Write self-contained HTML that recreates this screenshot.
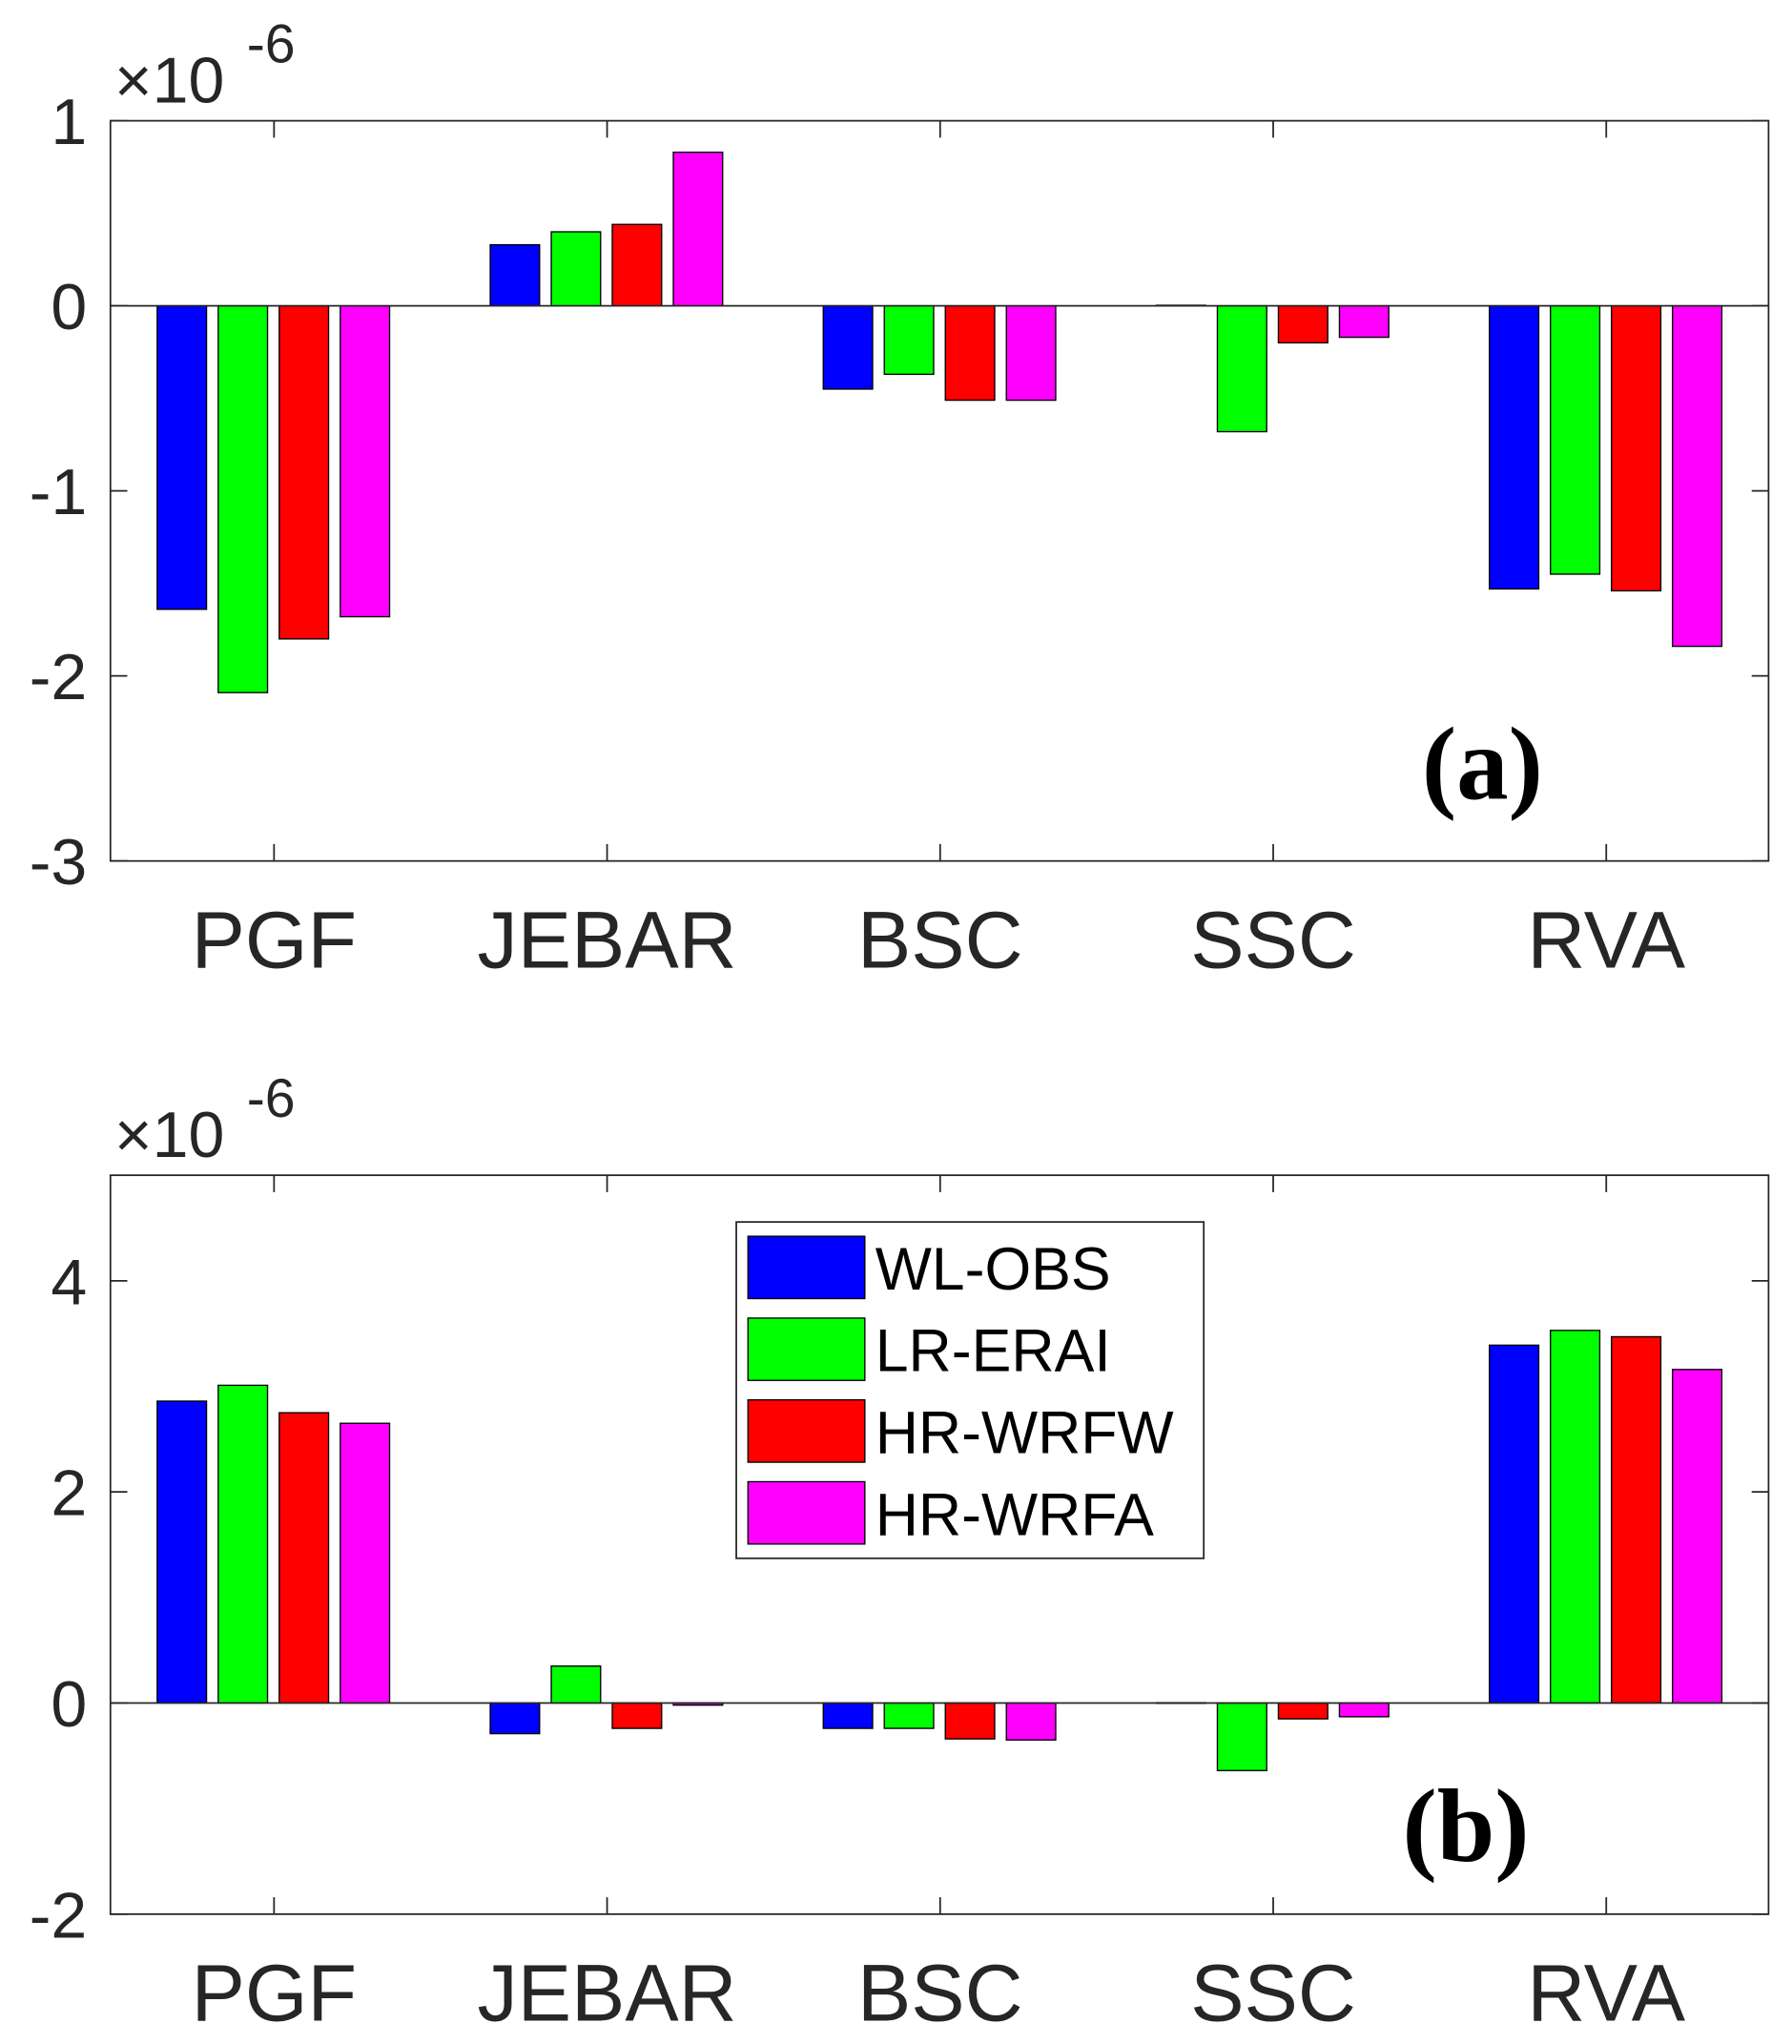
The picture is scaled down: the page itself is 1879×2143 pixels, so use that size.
<!DOCTYPE html>
<html><head><meta charset="utf-8"><style>html,body{margin:0;padding:0;background:#fff}svg{display:block}text{font-family:"Liberation Sans",sans-serif;fill:#262626}</style></head>
<body>
<svg id="chart" width="1879" height="2143" viewBox="0 0 1380 1574" xmlns="http://www.w3.org/2000/svg"></svg>
<script>
const categories = ["PGF","JEBAR","BSC","SSC","RVA"];
const seriesNames = ["WL-OBS","LR-ERAI","HR-WRFW","HR-WRFA"];
const seriesColors = ["#0000ff","#00ff00","#ff0000","#ff00ff"];
const valuesA_WLOBS = [-1.64, 0.33, -0.45, 0.003, -1.53];
const valuesA_LRERAI = [-2.09, 0.40, -0.37, -0.68, -1.45];
const valuesA_HRWRFW = [-1.80, 0.44, -0.51, -0.20, -1.54];
const valuesA_HRWRFA = [-1.68, 0.83, -0.51, -0.17, -1.84];
const valuesB_WLOBS = [2.86, -0.29, -0.24, 0.003, 3.39];
const valuesB_LRERAI = [3.01, 0.35, -0.24, -0.64, 3.53];
const valuesB_HRWRFW = [2.75, -0.24, -0.34, -0.15, 3.47];
const valuesB_HRWRFA = [2.65, -0.02, -0.35, -0.13, 3.16];
const ticksA = [-3,-2,-1,0,1];
const ticksB = [-2,0,2,4];

const NS="http://www.w3.org/2000/svg";
const svg=document.getElementById('chart');
function mk(tag,attrs,parent){const e=document.createElementNS(NS,tag);for(const k in attrs)e.setAttribute(k,attrs[k]);(parent||svg).appendChild(e);return e;}

function panel(cfg){
  const g=mk('g',{});
  
  
  const x0=85,x1=1362,y0=cfg.top,y1=cfg.bottom;
  const yScale=v=>y1-(v-cfg.min)/(cfg.max-cfg.min)*(y1-y0);
  const xScale=i=>211+i*256.5;
  const off=[-71,-24,23,70];
  mk('rect',{x:x0,y:y0,width:x1-x0,height:y1-y0,fill:'#fff',stroke:'#262626','stroke-width':1.3},g);
  cfg.series.forEach((vals,s)=>{
    vals.forEach((v,i)=>{
      const cx=xScale(i)+off[s];
      const ya=yScale(Math.max(v,0)),yb=yScale(Math.min(v,0));
      const r=mk('rect',{x:cx-19,y:ya,width:38,height:Math.max(yb-ya,0.5),fill:seriesColors[s],stroke:'#000','stroke-width':1},g);
      
      
    });
  });
  mk('line',{x1:x0,x2:x1,y1:yScale(0),y2:yScale(0),stroke:'#262626','stroke-width':1.3},g);
  cfg.ticks.forEach(t=>{
    const y=yScale(t);
    mk('line',{x1:x0,x2:x0+13,y1:y,y2:y,stroke:'#262626','stroke-width':1.3},g);
    mk('line',{x1:x1,x2:x1-13,y1:y,y2:y,stroke:'#262626','stroke-width':1.3},g);
    const tx=mk('text',{x:67,y:y+18,'font-size':50,'text-anchor':'end'},g);
    tx.textContent=t;
    
    
  });
  categories.forEach((c,i)=>{
    const x=xScale(i);
    mk('line',{x1:x,x2:x,y1:y1,y2:y1-13,stroke:'#262626','stroke-width':1.3},g);
    mk('line',{x1:x,x2:x,y1:y0,y2:y0+13,stroke:'#262626','stroke-width':1.3},g);
    const tx=mk('text',{x:x,y:y1+82,'font-size':62,'text-anchor':'middle'},g);
    tx.textContent=c;
    
    
  });
  const ex=mk('text',{x:88,y:y0-14,'font-size':50},g);
  ex.textContent='×10';
  
  
  const ex2=mk('text',{x:190,y:y0-45,'font-size':42},g);
  ex2.textContent='-6';
  
  
  const lab=mk('text',{x:cfg.labelX,y:cfg.labelY,'font-size':80,'font-weight':'bold',style:'font-family:"Liberation Serif",serif;fill:#000'},g);
  lab.textContent=cfg.label;
  
  
}
panel({name:'panel-a',top:93,bottom:663,min:-3,max:1,ticks:ticksA,series:[valuesA_WLOBS,valuesA_LRERAI,valuesA_HRWRFW,valuesA_HRWRFA],label:'(a)',labelX:1095,labelY:615});
panel({name:'panel-b',top:905,bottom:1474,min:-2,max:5,ticks:ticksB,series:[valuesB_WLOBS,valuesB_LRERAI,valuesB_HRWRFW,valuesB_HRWRFA],label:'(b)',labelX:1080,labelY:1433});

const lg=mk('g',{});


mk('rect',{x:567,y:941,width:360,height:259,fill:'#fff',stroke:'#262626','stroke-width':1.3},lg);
seriesNames.forEach((n,s)=>{
  const y=952+s*63;
  const sw=mk('rect',{x:576,y:y,width:90,height:48,fill:seriesColors[s],stroke:'#000','stroke-width':1},lg);
  
  
  const t=mk('text',{x:674,y:y+41,'font-size':46,style:'fill:#000'},lg);
  t.textContent=n;
  
  
});
</script>
</body></html>
